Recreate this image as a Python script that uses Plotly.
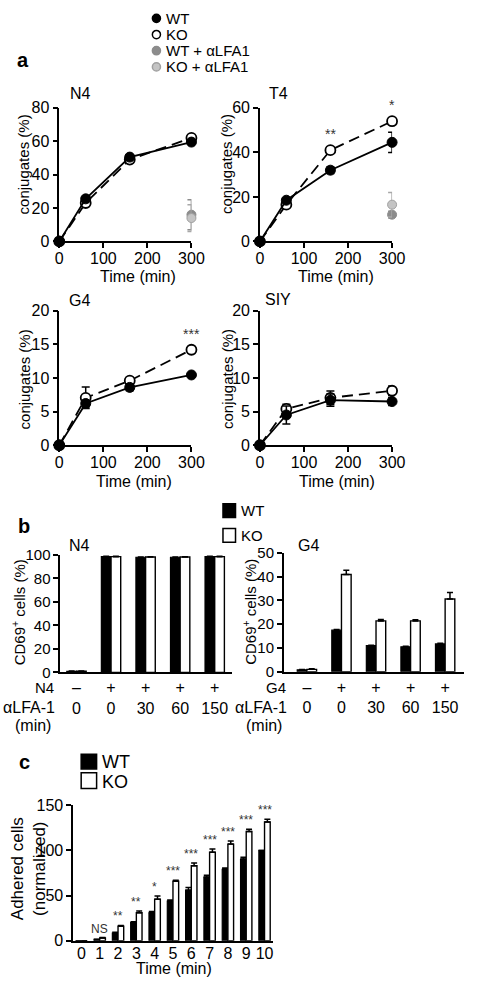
import plotly.graph_objects as go

W, H = 481, 991
FONT = "Liberation Sans, Arial, Helvetica, sans-serif"

# ---------------- data ----------------
time_min = [0, 60, 160, 300]
lfa_time = [300]

n4_wt = [0, 25.5, 50.5, 59.5]
n4_wt_err = [0, 1.0, 1.0, 1.2]
n4_ko = [0, 23, 49, 62]
n4_ko_err = [0, 1.0, 1.0, 1.0]
n4_wt_lfa = [16]
n4_wt_lfa_err = [9]
n4_ko_lfa = [14]
n4_ko_lfa_err = [8]

t4_wt = [0, 18.5, 32, 44.5]
t4_wt_err = [0, 1.0, 1.5, 4.5]
t4_ko = [0, 16.5, 41, 54]
t4_ko_err = [0, 0.5, 0.8, 1.0]
t4_wt_lfa = [12]
t4_wt_lfa_err = [1.5]
t4_ko_lfa = [16.5]
t4_ko_lfa_err = [5.5]

g4_wt = [0, 6.2, 8.6, 10.45]
g4_wt_err = [0, 0.5, 0.5, 0.2]
g4_ko = [0, 7.05, 9.6, 14.2]
g4_ko_err = [0, 1.6, 0.3, 0.2]

siy_wt = [0, 4.5, 6.7, 6.5]
siy_wt_err = [0, 1.35, 0.9, 0.6]
siy_ko = [0, 5.4, 7.05, 8.1]
siy_ko_err = [0, 0.7, 1.0, 0.7]

# stars panel a: (time, label)
t4_stars = [(160, "**"), (300, "*")]
g4_stars = [(300, "***")]

# panel b
b_cats = [0, 1, 2, 3, 4]
b_stim = ["–", "+", "+", "+", "+"]
b_lfa = ["0", "0", "30", "60", "150"]
b_n4_wt = [1.0, 98.5, 98.0, 98.0, 98.5]
b_n4_wt_err = [0.2, 0.3, 0.3, 0.3, 0.3]
b_n4_ko = [1.0, 98.5, 98.2, 98.2, 98.5]
b_n4_ko_err = [0.2, 0.3, 0.3, 0.3, 0.3]
b_g4_wt = [0.8, 17.5, 11.0, 10.5, 11.7]
b_g4_wt_err = [0.1, 0.3, 0.2, 0.2, 0.3]
b_g4_ko = [1.0, 40.9, 21.4, 21.4, 30.6]
b_g4_ko_err = [0.3, 1.8, 0.6, 0.5, 2.8]

# panel c
c_time = [0, 1, 2, 3, 4, 5, 6, 7, 8, 9, 10]
c_wt = [0, 1.5, 8.5, 20, 31, 44, 56, 70.5, 79, 90.5, 100]
c_wt_err = [0, 0.3, 0.8, 1.0, 1.5, 1.2, 3.0, 2.0, 1.5, 2.0, 0]
c_ko = [0, 3, 16, 31, 46, 66, 83, 98, 107, 121, 131.5]
c_ko_err = [0, 0.5, 1.0, 2.0, 3.5, 1.0, 3.0, 3.5, 3.5, 2.5, 3.0]
c_stars = ["", "NS", "**", "**", "*", "***", "***", "***", "***", "***", "***"]


def px(x):
    return x / W


def py(y):
    return 1 - y / H


fig = go.Figure()

GRAY_D = "#8c8c8c"
GRAY_L = "#c4c4c4"


def add_time_panel(xa, ya, wt, wte, ko, koe, wt_lfa=None, wt_lfa_e=None, ko_lfa=None, ko_lfa_e=None):
    if wt_lfa is not None:
        fig.add_trace(go.Scatter(x=lfa_time, y=wt_lfa, mode="markers", xaxis=xa, yaxis=ya,
                                 marker=dict(size=9, color=GRAY_D, line=dict(color=GRAY_D, width=1)),
                                 error_y=dict(type="data", array=wt_lfa_e, color=GRAY_D, thickness=1.5, width=4),
                                 cliponaxis=False, showlegend=False))
        fig.add_trace(go.Scatter(x=lfa_time, y=ko_lfa, mode="markers", xaxis=xa, yaxis=ya,
                                 marker=dict(size=9, color=GRAY_L, line=dict(color="#a0a0a0", width=1)),
                                 error_y=dict(type="data", array=ko_lfa_e, color="#a8a8a8", thickness=1.5, width=4),
                                 cliponaxis=False, showlegend=False))
    fig.add_trace(go.Scatter(x=time_min, y=ko, mode="lines+markers", xaxis=xa, yaxis=ya,
                             line=dict(color="black", width=1.8, dash="11px,6px"),
                             marker=dict(size=10, color="white", line=dict(color="black", width=1.8)),
                             error_y=dict(type="data", array=koe, color="black", thickness=1.5, width=4),
                             cliponaxis=False, showlegend=False))
    fig.add_trace(go.Scatter(x=time_min, y=wt, mode="lines+markers", xaxis=xa, yaxis=ya,
                             line=dict(color="black", width=1.8),
                             marker=dict(size=10, color="black", line=dict(color="black", width=1)),
                             error_y=dict(type="data", array=wte, color="black", thickness=1.5, width=4),
                             cliponaxis=False, showlegend=False))


add_time_panel("x", "y", n4_wt, n4_wt_err, n4_ko, n4_ko_err, n4_wt_lfa, n4_wt_lfa_err, n4_ko_lfa, n4_ko_lfa_err)
add_time_panel("x2", "y2", t4_wt, t4_wt_err, t4_ko, t4_ko_err, t4_wt_lfa, t4_wt_lfa_err, t4_ko_lfa, t4_ko_lfa_err)
add_time_panel("x3", "y3", g4_wt, g4_wt_err, g4_ko, g4_ko_err)
add_time_panel("x4", "y4", siy_wt, siy_wt_err, siy_ko, siy_ko_err)


def add_bars(xa, ya, cats, wt, wte, ko, koe, w):
    fig.add_trace(go.Bar(x=cats, y=wt, width=w, offset=-w, xaxis=xa, yaxis=ya,
                         marker=dict(color="black", line=dict(color="black", width=1.2)),
                         error_y=dict(type="data", array=wte, arrayminus=[0] * len(wte), symmetric=False,
                                      color="black", thickness=1.5, width=3),
                         showlegend=False))
    fig.add_trace(go.Bar(x=cats, y=ko, width=w, offset=0, xaxis=xa, yaxis=ya,
                         marker=dict(color="white", line=dict(color="black", width=1.4)),
                         error_y=dict(type="data", array=koe, arrayminus=[0] * len(koe), symmetric=False,
                                      color="black", thickness=1.5, width=3),
                         showlegend=False))


add_bars("x5", "y5", b_cats, b_n4_wt, b_n4_wt_err, b_n4_ko, b_n4_ko_err, 0.28)
add_bars("x6", "y6", b_cats, b_g4_wt, b_g4_wt_err, b_g4_ko, b_g4_ko_err, 0.28)
add_bars("x7", "y7", c_time, c_wt, c_wt_err, c_ko, c_ko_err, 0.31)

# ---------------- axes ----------------
def yax(dom, rng, dtick, anchor, font=16):
    return dict(domain=[py(dom[1]), py(dom[0])], range=rng, dtick=dtick, tick0=0, anchor=anchor,
                showline=True, linecolor="black", linewidth=1.5, ticks="outside", ticklen=5,
                tickwidth=1.5, tickcolor="black", showgrid=False, zeroline=False,
                tickfont=dict(family=FONT, size=font, color="black"))


def xax_time(dom, anchor):
    return dict(domain=[px(dom[0]), px(dom[1])], range=[0, 300], tickvals=[0, 100, 200, 300], anchor=anchor,
                showline=True, linecolor="black", linewidth=1.5, ticks="outside", ticklen=5,
                tickwidth=1.5, tickcolor="black", showgrid=False, zeroline=False,
                ticklabelstandoff=-3,
                tickfont=dict(family=FONT, size=16, color="black"))


def xax_cat(dom, rng, vals, text, anchor, font, standoff=0):
    return dict(domain=[px(dom[0]), px(dom[1])], range=rng, tickvals=vals, ticktext=text, anchor=anchor,
                showline=True, linecolor="black", linewidth=1.5, ticks="", showgrid=False, zeroline=False,
                ticklabelstandoff=standoff,
                tickfont=dict(family=FONT, size=font, color="black"))


b_ticktext = [f"{s}<br>{l}" for s, l in zip(b_stim, b_lfa)]

fig.update_layout(
    xaxis=xax_time((57.3, 194.3), "y"),
    yaxis=yax((100.7, 236.7), [0, 80], 20, "x"),
    xaxis2=xax_time((265.3, 402.3), "y2"),
    yaxis2=yax((100.7, 236.7), [0, 60], 20, "x2"),
    xaxis3=xax_time((57.3, 194.3), "y3"),
    yaxis3=yax((307.3, 444.3), [0, 20], 5, "x3"),
    xaxis4=xax_time((265.3, 402.3), "y4"),
    yaxis4=yax((307.3, 444.3), [0, 20], 5, "x4"),
    xaxis5=xax_cat((58.3, 236.7), [-0.47, 4.51], b_cats, b_ticktext, "y5", 16),
    yaxis5=yax((556, 675.7), [0, 100], 20, "x5", 15),
    xaxis6=xax_cat((290, 477), [-0.67, 4.55], b_cats, b_ticktext, "y6", 16),
    yaxis6=yax((554, 675), [0, 50], 10, "x6", 15),
    xaxis7=xax_cat((71.7, 279), [-0.45, 10.47], c_time, [str(t) for t in c_time], "y7", 16, -3),
    yaxis7=yax((811, 949), [0, 150], 50, "x7", 16),
)

# ---------------- annotations ----------------
ann = []


def txt(x, y, s, size=16, xanchor="center", yanchor="middle", bold=False, angle=0, color="black"):
    ann.append(dict(x=px(x), y=py(y), xref="paper", yref="paper", text=f"<b>{s}</b>" if bold else s,
                    showarrow=False, xanchor=xanchor, yanchor=yanchor, textangle=angle,
                    font=dict(family=FONT, size=size, color=color)))


# panel labels
txt(20, 52, "a", 20, bold=True)
txt(21, 527, "b", 20, bold=True)
txt(21, 767, "c", 20, bold=True)

# legend a
leg_a = [("WT", 9.5), ("KO", 26), ("WT + αLFA1", 42.5), ("KO + αLFA1", 59)]
for s, y in leg_a:
    txt(166, y, s, 15, xanchor="left")

# panel titles
txt(66, 86, "N4", 16, xanchor="left")
txt(273, 86, "T4", 16, xanchor="left")
txt(65, 297, "G4", 16, xanchor="left")
txt(268, 296, "SIY", 16, xanchor="left")
txt(65, 546, "N4", 16, xanchor="left")
txt(303, 546, "G4", 16, xanchor="left")

# axis titles panel a
for x, y in [(20, 158), (230, 158), (21, 377), (231, 377)]:
    txt(x, y, "conjugates (%)", 15, angle=-90)
for x, y in [(139, 272), (344, 272), (135, 481), (345, 481)]:
    txt(x, y, "Time (min)", 16)

# panel b titles
txt(15, 614, "CD69<sup>+</sup> cells (%)", 15, angle=-90)
txt(255, 614, "CD69<sup>+</sup> cells (%)", 15, angle=-90)
for x0, lab in [(0, "N4"), (240, "G4")]:
    txt(x0 + 54, 691, lab, 15, xanchor="right")
    txt(x0 + 55, 711, "αLFA-1", 16, xanchor="right")
    txt(x0 + 30, 730, "(min)", 16)
txt(244, 511, "WT", 15, xanchor="left")
txt(244, 536, "KO", 15, xanchor="left")

# panel c titles
txt(25, 876, "Adhered cells<br>(normalized)", 17, angle=-90)
txt(176, 977, "Time (min)", 16)
txt(100, 767, "WT", 18, xanchor="left")
txt(100, 787, "KO", 18, xanchor="left")

# stars (data coords)
def star(xa, ya, x, y, s, size, shift):
    ann.append(dict(x=x, y=y, xref=xa, yref=ya, text=s, showarrow=False, yanchor="bottom",
                    yshift=shift, font=dict(family=FONT, size=size, color="#333333")))


for t, s in t4_stars:
    i = time_min.index(t)
    star("x2", "y2", t, t4_ko[i] + t4_ko_err[i], s, 14, 4)
for t, s in g4_stars:
    i = time_min.index(t)
    star("x3", "y3", t, g4_ko[i] + g4_ko_err[i], s, 14, 4)
for t, s in zip(c_time, c_stars):
    if s:
        star("x7", "y7", t, c_ko[t] + c_ko_err[t], s, 12, 0)

# ---------------- shapes (legend keys) ----------------
shapes = []


def circle(cx, cy, r, fill, line):
    shapes.append(dict(type="circle", xref="paper", yref="paper", x0=px(cx - r), x1=px(cx + r),
                       y0=py(cy + r), y1=py(cy - r), fillcolor=fill, line=dict(color=line, width=1.5)))


def rect(x0, y0, x1, y1, fill):
    shapes.append(dict(type="rect", xref="paper", yref="paper", x0=px(x0), x1=px(x1),
                       y0=py(y1), y1=py(y0), fillcolor=fill, line=dict(color="black", width=1.5)))


circle(158, 9.5, 4.2, "black", "black")
circle(158, 26, 4.2, "white", "black")
circle(158, 42.5, 4.2, GRAY_D, GRAY_D)
circle(158, 59, 4.2, GRAY_L, "#a0a0a0")
rect(227, 504, 240, 518, "black")
rect(227, 529, 240, 543, "white")
rect(80, 759, 96, 774, "black")
rect(80, 778, 96, 794, "white")

fig.update_layout(
    width=W, height=H, autosize=False,
    margin=dict(l=0, r=0, t=0, b=0),
    paper_bgcolor="white", plot_bgcolor="white",
    barmode="overlay", showlegend=False,
    annotations=ann, shapes=shapes,
    font=dict(family=FONT, color="black"),
)

fig.write_html("out.html", config={"displayModeBar": False},
               post_script="document.body.style.margin='0px';document.body.style.padding='0px';")
